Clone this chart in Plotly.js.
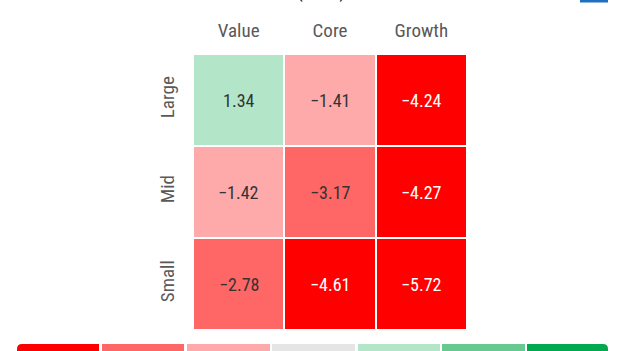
<!DOCTYPE html>
<html>
<head>
<meta charset="utf-8">
<script src="https://cdn.plot.ly/plotly-3.0.1.min.js"></script>
<style>html,body{margin:0;padding:0;background:#fff;}#chart{width:624px;height:351px;}</style>
</head>
<body>
<div id="chart"></div>
<script>
// ---- data ----
const styles = ["Value", "Core", "Growth"];
const sizes = ["Large", "Mid", "Small"];
const largeRow = [1.34, -1.41, -4.24];
const midRow = [-1.42, -3.17, -4.27];
const smallRow = [-2.78, -4.61, -5.72];
const titleText = "(USD)";
const bucketEdges = [-4, -2, -0.5, 0.5, 2, 4];
const bucketColors = ["#ff0000", "#ff6666", "#ffaaaa", "#e5e5e5", "#b3e6c8", "#66c98f", "#00a84f"];

// ---- layout helpers ----
const W = 624, H = 351;
const M = {l: 193, r: 157, t: 54, b: 21};
const PW = W - M.l - M.r, PH = H - M.t - M.b;
const px = x => (x - M.l) / PW;
const py = y => (H - M.b - y) / PH;
const font = "'Roboto Condensed', 'Liberation Sans Narrow', 'Arial Narrow', 'DejaVu Sans Condensed', Roboto, sans-serif";

const zRows = [largeRow, midRow, smallRow];
const zmin = -6, zmax = 6;
const norm = v => (v - zmin) / (zmax - zmin);
const colorscale = [];
const stops = [zmin].concat(bucketEdges, [zmax]);
for (let i = 0; i < bucketColors.length; i++) {
  colorscale.push([norm(stops[i]), bucketColors[i]]);
  colorscale.push([norm(stops[i + 1]), bucketColors[i]]);
}

const fmt = v => (v < 0 ? "\u2212" : "") + Math.abs(v).toFixed(2);

const annotations = [];
zRows.forEach((row, r) => row.forEach((v, c) => {
  annotations.push({
    x: styles[c], y: sizes[r], xref: "x", yref: "y", text: fmt(v), showarrow: false,
    font: {family: font, size: 18, color: v <= bucketEdges[0] ? "#ffffff" : "#333333"}
  });
}));
// partially visible title at top
annotations.push({
  x: px(321), y: py(5), xref: "paper", yref: "paper", xanchor: "center", yanchor: "bottom",
  text: titleText, showarrow: false, font: {family: font, size: 22, color: "#333333"}
});

const shapes = [];
// legend bar segments
const segX = [[17, 99], [102, 184], [187, 270], [272, 355], [358, 440], [442, 525], [527, 608]];
const barTop = 344, barBot = 360;
segX.forEach((s, i) => {
  const x0 = px(s[0]), x1 = px(s[1]), y0 = py(barBot), y1 = py(barTop);
  let path;
  const rx = 5 / PW, ry = 5 / PH;
  if (i === 0) {
    path = `M ${x1},${y0} L ${x0},${y0} L ${x0},${y1 - ry} Q ${x0},${y1} ${x0 + rx},${y1} L ${x1},${y1} Z`;
  } else if (i === segX.length - 1) {
    path = `M ${x0},${y0} L ${x0},${y1} L ${x1 - rx},${y1} Q ${x1},${y1} ${x1},${y1 - ry} L ${x1},${y0} Z`;
  } else {
    path = `M ${x0},${y0} L ${x0},${y1} L ${x1},${y1} L ${x1},${y0} Z`;
  }
  shapes.push({type: "path", xref: "paper", yref: "paper", path: path,
    fillcolor: bucketColors[i], line: {width: 0}, layer: "above"});
});
// blue icon edge top-right
shapes.push({type: "rect", xref: "paper", yref: "paper", x0: px(580), x1: px(608), y0: py(2.5), y1: py(-10),
  fillcolor: "#1f6fbf", line: {width: 0}});

const trace = {
  type: "heatmap", x: styles, y: sizes, z: zRows,
  zmin: zmin, zmax: zmax, colorscale: colorscale, showscale: false,
  xgap: 2, ygap: 2, hoverinfo: "skip"
};

const layout = {
  width: W, height: H, margin: M,
  paper_bgcolor: "#ffffff", plot_bgcolor: "#ffffff",
  font: {family: font},
  xaxis: {side: "top", showgrid: false, zeroline: false, showline: false, ticks: "",
    tickfont: {family: font, size: 19, color: "#595959"}, ticklabelstandoff: 12, fixedrange: true},
  yaxis: {autorange: "reversed", showgrid: false, zeroline: false, showline: false, ticks: "",
    tickangle: -90, tickfont: {family: font, size: 19, color: "#595959"}, ticklabelstandoff: 14, fixedrange: true},
  annotations: annotations, shapes: shapes, showlegend: false
};

Plotly.newPlot("chart", [trace], layout, {displayModeBar: false, staticPlot: true});
</script>
</body>
</html>
